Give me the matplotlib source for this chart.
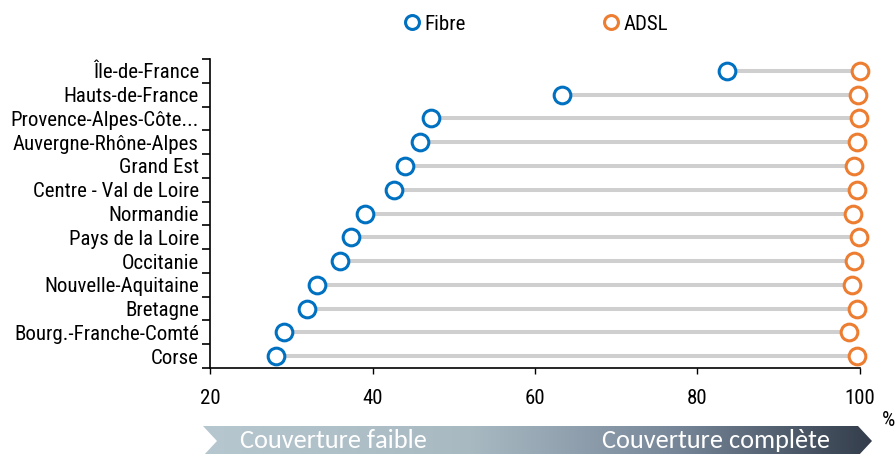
import numpy as np
import matplotlib.pyplot as plt
from matplotlib.patches import Polygon
from matplotlib.lines import Line2D
from matplotlib.colors import LinearSegmentedColormap

plt.rcParams['font.family'] = ['Roboto Condensed', 'DejaVu Sans']

regions = ['Île-de-France', 'Hauts-de-France', 'Provence-Alpes-Côte...',
           'Auvergne-Rhône-Alpes', 'Grand Est', 'Centre - Val de Loire',
           'Normandie', 'Pays de la Loire', 'Occitanie', 'Nouvelle-Aquitaine',
           'Bretagne', 'Bourg.-Franche-Comté', 'Corse']
fibre = [83.6, 63.3, 47.2, 45.8, 44.0, 42.6, 39.1, 37.4, 36.0, 33.2, 31.9, 29.1, 28.1]
adsl = [100.0, 99.8, 99.9, 99.6, 99.3, 99.6, 99.2, 99.9, 99.3, 99.0, 99.6, 98.6, 99.6]

blue = '#0070c0'
orange = '#ed7d31'

fig = plt.figure(figsize=(8.96, 4.54), dpi=100, facecolor='white')
ax = fig.add_axes([0.2344, 0.1894, 0.7254, 0.6806])

y = np.arange(len(regions))[::-1]
ax.hlines(y, fibre, adsl, color='#cfcfcf', lw=2.9, zorder=1)
ax.plot(fibre, y, 'o', ms=12, mfc='white', mec=blue, mew=2.2, zorder=3, clip_on=False)
ax.plot(adsl, y, 'o', ms=12, mfc='white', mec=orange, mew=2.2, zorder=3, clip_on=False)

ax.set_xlim(20, 100)
ax.set_ylim(-0.5, len(regions) - 0.5)
ax.set_xticks([20, 40, 60, 80, 100])
ax.tick_params(axis='x', labelsize=15, length=4, width=1, direction='out', pad=11)
ax.set_yticks(y)
ax.set_yticklabels(regions, fontsize=15)
ax.set_yticks(np.arange(-0.5, len(regions), 1), minor=True)
ax.tick_params(axis='y', which='major', length=0, pad=8)
ax.tick_params(axis='y', which='minor', length=6, width=1.2, direction='out')
for s in ['top', 'right']:
    ax.spines[s].set_visible(False)
ax.spines['left'].set_linewidth(1.2)
ax.spines['bottom'].set_linewidth(1.2)

fig.text(882 / 896, 1 - 430 / 454, '%', fontsize=15, ha='left', va='bottom')

# legend
handles = [Line2D([], [], ls='none', marker='o', ms=10, mfc='white', mec=blue, mew=2.2),
           Line2D([], [], ls='none', marker='o', ms=10, mfc='white', mec=orange, mew=2.2)]
fig.legend(handles, ['Fibre', 'ADSL'], loc='center', bbox_to_anchor=(0.598, 0.947),
           ncol=2, frameon=False, fontsize=15, handlelength=0.8, handletextpad=0.2,
           columnspacing=6.55)

# gradient arrow along the bottom
W, H = 896, 454
x0, x1, xtip, notch = 203, 858, 872, 14
yt, yc = 426, 441
yb = 2 * yc - yt
pts = [(x0, yt), (x1, yt), (xtip, yc), (x1, yb), (x0, yb), (x0 + notch, yc)]
pts = [(px / W, 1 - py / H) for px, py in pts]
cmap = LinearSegmentedColormap.from_list(
    'arrow', [(0, '#b7c7cf'), (0.4, '#a9b9c2'), (0.7, '#78889a'), (1, '#333d4b')])
grad = np.linspace(0, 1, 256).reshape(1, -1)
bax = fig.add_axes([0, 0, 1, 1], zorder=-1)
bax.set_xlim(0, 1)
bax.set_ylim(0, 1)
bax.axis('off')
im = bax.imshow(grad, cmap=cmap, aspect='auto',
                extent=[x0 / W, xtip / W, 1 - yb / H, 1 - yt / H])
im.set_clip_path(Polygon(pts, closed=True, transform=bax.transData))
fig.text(240 / W, 1 - 448 / H, 'Couverture faible', fontsize=19, color='white',
         family='Carlito', ha='left', va='baseline')
fig.text(602 / W, 1 - 448 / H, 'Couverture complète', fontsize=19, color='white',
         family='Carlito', ha='left', va='baseline')

fig.savefig('out.png', dpi=100)
